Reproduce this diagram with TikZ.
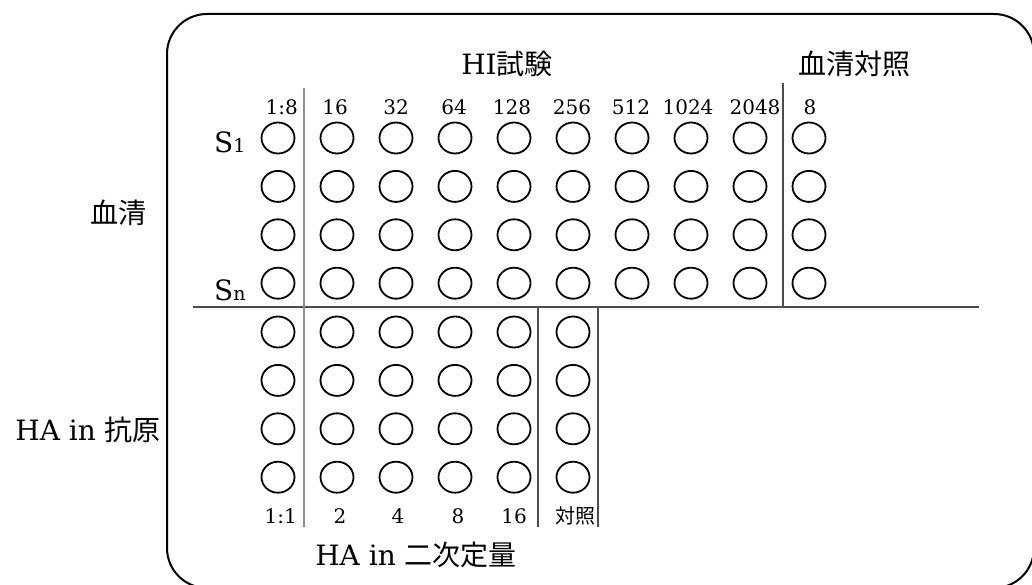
\documentclass[tikz,border=0pt]{standalone}
\usepackage{fontspec}
\setmainfont{DejaVu Serif}
\newfontfamily\cjk{Noto Sans CJK JP}
\usetikzlibrary{shapes.geometric}
\tikzset{
  well/.style={ellipse, draw=black, line width=1.8pt, minimum width=33pt, minimum height=31pt, inner sep=0pt},
  lab/.style={inner sep=0pt, anchor=base, font=\fontsize{20}{20}\selectfont},
  big/.style={inner sep=0pt, anchor=base, font=\fontsize{28}{28}\selectfont},
  bigcjk/.style={inner sep=0pt, anchor=base, font=\cjk\fontsize{28}{28}\selectfont},
  sep/.style={line width=2pt, draw=black!70},
  seplight/.style={line width=2pt, draw=black!45},
}
\begin{document}
\begin{tikzpicture}[x=1pt,y=-1pt]
\useasboundingbox (0,0) rectangle (1032,585);
\begin{scope}
\clip (0,0) rectangle (1032,585);
\draw[line width=2pt, rounded corners=40pt] (167,14) rectangle (1034,588);
\end{scope}
% upper wells
\foreach \c in {0,...,9} {
  \foreach \r in {0,...,3} {
    \node[well] (u\c-\r) at ({278+59*\c},{138+48.4*\r}) {};
  }
}
% lower wells
\foreach \c in {0,...,5} {
  \foreach \r in {0,...,3} {
    \node[well] (l\c-\r) at ({278+59*\c},{332+48.4*\r}) {};
  }
}
% separators
\coordinate (hl) at (193,307);
\coordinate (hr) at (979,307);
\draw[sep] (hl) -- (hr);
\coordinate (v1t) at (304,88);
\coordinate (v1b) at (304,527);
\draw[seplight] (v1t) -- (v1b);
\coordinate (v2t) at (783,83);
\coordinate (v2b) at (783,307);
\draw[sep] (v2t) -- (v2b);
\coordinate (v3t) at (538,307);
\coordinate (v3b) at (538,527);
\draw[sep] (v3t) -- (v3b);
\coordinate (v4t) at (598,307);
\coordinate (v4b) at (598,527);
\draw[sep] (v4t) -- (v4b);
% top labels
\node[lab, anchor=base east] (t0) at (298,115) {1:8};
\node[lab] (t1) at (335,115) {16};
\node[lab] (t2) at (396,115) {32};
\node[lab] (t3) at (454,115) {64};
\node[lab] (t4) at (512,115) {128};
\node[lab] (t5) at (572,115) {256};
\node[lab] (t6) at (631,115) {512};
\node[lab] (t7) at (688,115) {1024};
\node[lab] (t8) at (755,115) {2048};
\node[lab] (t9) at (810,115) {8};
% bottom labels
\node[lab, anchor=base east] (b0) at (297,523) {1:1};
\node[lab] (b1) at (340,523) {2};
\node[lab] (b2) at (398,523) {4};
\node[lab] (b3) at (458,523) {8};
\node[lab] (b4) at (514,523) {16};
\node[lab, font=\cjk\fontsize{20}{20}\selectfont] (b5) at (575,523) {対照};
% row labels
\node[big, anchor=base west] (s1) at (214,153) {S{\fontsize{19}{19}\selectfont 1}};
\node[big, anchor=base west] (sn) at (214,300) {S{\fontsize{19}{19}\selectfont n}};
% titles
\node[big] (hi) at (507,75) {HI{\cjk\fontsize{28}{28}\selectfont 試験}};
\node[bigcjk] (sc) at (854,75) {血清対照};
\node[bigcjk] (serum) at (118,224) {血清};
\node[big, anchor=base east] (haag) at (161,440) {HA in {\cjk\fontsize{28}{28}\selectfont 抗原}};
\node[big] (ha2) at (416,565) {HA in {\cjk\fontsize{28}{28}\selectfont 二次定量}};
\end{tikzpicture}
\end{document}
